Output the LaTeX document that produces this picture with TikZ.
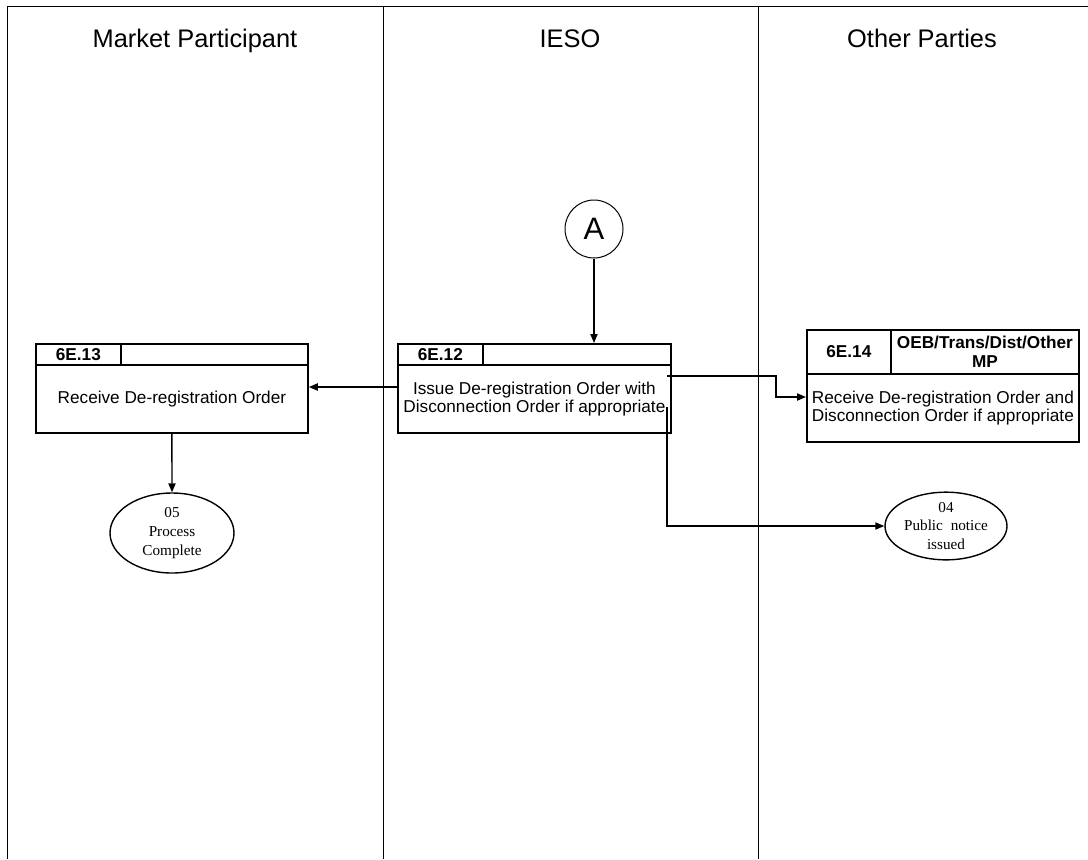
\documentclass[tikz,border=0pt]{standalone}
\usepackage{fontspec}
\setmainfont{Liberation Sans}
\newfontfamily\serifnote{Liberation Serif}
\usetikzlibrary{arrows.meta,shapes.geometric}
\begin{document}
\begin{tikzpicture}[x=0.5pt,y=-0.5pt,
  lane/.style={line width=0.45pt},
  lanetitle/.style={anchor=base,font=\fontsize{12.7}{14}\selectfont},
  hdr/.style={draw,line width=0.9pt,inner sep=0pt,font=\bfseries\fontsize{8.6}{9.4}\selectfont,align=center},
  body/.style={draw,line width=0.9pt,inner sep=0pt,font=\fontsize{8.6}{9.2}\selectfont,align=center},
  term/.style={draw,ellipse,line width=0.7pt,inner sep=0pt,font=\serifnote\fontsize{7.6}{9.4}\selectfont,align=center},
  conn/.style={draw,circle,line width=0.5pt,inner sep=0pt,minimum size=29pt,font=\fontsize{15.5}{16}\selectfont},
  arr/.style={line width=0.7pt,-{Triangle[length=4.5pt,width=3.6pt]}},
  ln/.style={line width=0.7pt}]
\useasboundingbox (0,0) rectangle (1088,859);
\fill[white] (0,0) rectangle (1088,859);
% swimlane frame
\draw[lane] (1088,6) -- (7,6) -- (7,859);
\draw[lane] (383,6) -- (383,859);
\draw[lane] (758,6) -- (758,859);
\node[lanetitle] (t1) at (195,47) {Market Participant};
\node[lanetitle] (t2) at (570,47) {IESO};
\node[lanetitle] (t3) at (922,47) {Other Parties};
% connector A
\node[conn] (A) at (594,229) {A};
% 6E.13
\node[hdr,minimum width=42.5pt,minimum height=10.5pt,anchor=north west] (n13id) at (35,343) {6E.13};
\node[hdr,minimum width=93.5pt,minimum height=10.5pt,anchor=north west] (n13role) at (120,343) {};
\node[body,minimum width=136pt,minimum height=34pt,anchor=north west] (n13) at (35,364) {Receive De-registration Order};
% 6E.12
\node[hdr,minimum width=42.5pt,minimum height=10.5pt,anchor=north west] (n12id) at (397,343) {6E.12};
\node[hdr,minimum width=94pt,minimum height=10.5pt,anchor=north west] (n12role) at (482,343) {};
\node[body,minimum width=136.5pt,minimum height=34pt,anchor=north west] (n12) at (397,364) {Issue De-registration Order with\\Disconnection Order if appropriate};
% 6E.14
\node[hdr,minimum width=42pt,minimum height=22pt,anchor=north west] (n14id) at (806,329) {6E.14};
\node[hdr,minimum width=94pt,minimum height=22pt,anchor=north west] (n14role) at (890,329) {OEB/Trans/Dist/Other\\MP};
\node[body,minimum width=136pt,minimum height=34pt,anchor=north west] (n14) at (806,373) {Receive De-registration Order and\\Disconnection Order if appropriate};
% terminators
\node[term,minimum width=62pt,minimum height=40pt] (e05) at (172,533) {05\\Process\\Complete};
\node[term,minimum width=61pt,minimum height=31.5pt] (e04) at (946,526) {04\\Public\hspace{2pt} notice\\issued};
% connectors
\coordinate (s1) at (667,376);
\coordinate (s2) at (667,407);
\coordinate (b1) at (776,376);
\draw[arr] (A) -- (A |- n12role.north);
\draw[arr] (n12.west |- 0,387) -- (n13.east |- 0,387);
\draw[arr] (s1) -- (b1) |- (n14.west |- 0,397);
\draw[arr] (s2) |- (e04.west);
\draw[arr] (n13.south) -- (e05.north);
\end{tikzpicture}
\end{document}
